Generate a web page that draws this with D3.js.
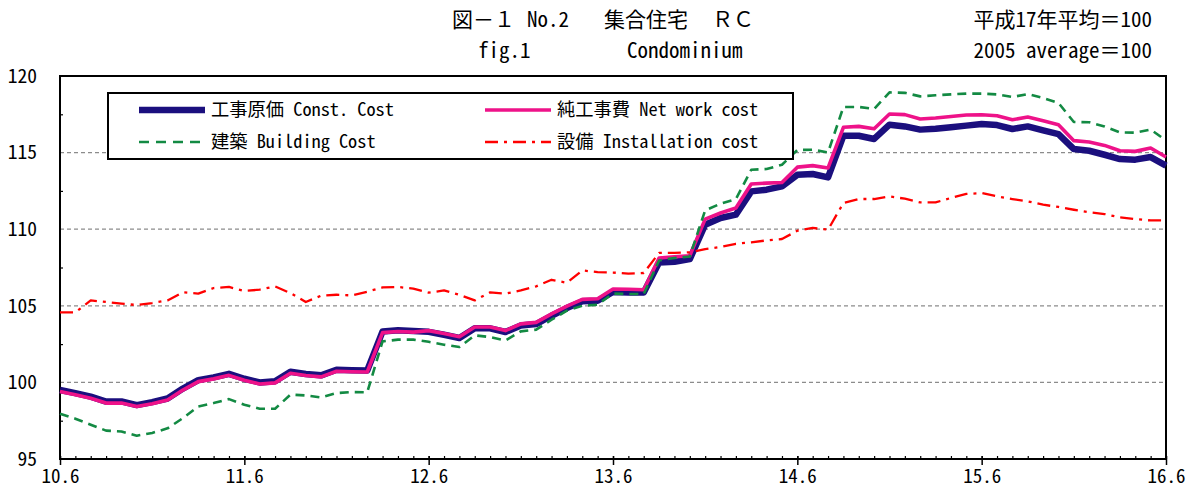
<!DOCTYPE html>
<html><head><meta charset="utf-8">
<script src="https://cdn.jsdelivr.net/npm/d3@7/dist/d3.min.js"></script>
<style>
body{margin:0;background:#fff;}
svg{display:block;}
text{font-family:"Noto Sans Mono CJK JP","DejaVu Sans Mono","Noto Sans CJK JP",monospace;fill:#000;}
</style>
</head><body>
<svg id="c" width="1192" height="491"></svg>
<script>
const months = [
"10.6","10.7","10.8","10.9","10.10","10.11","10.12","11.1","11.2","11.3","11.4","11.5",
"11.6","11.7","11.8","11.9","11.10","11.11","11.12","12.1","12.2","12.3","12.4","12.5",
"12.6","12.7","12.8","12.9","12.10","12.11","12.12","13.1","13.2","13.3","13.4","13.5",
"13.6","13.7","13.8","13.9","13.10","13.11","13.12","14.1","14.2","14.3","14.4","14.5",
"14.6","14.7","14.8","14.9","14.10","14.11","14.12","15.1","15.2","15.3","15.4","15.5",
"15.6","15.7","15.8","15.9","15.10","15.11","15.12","16.1","16.2","16.3","16.4","16.5","16.6"];
const xTickLabels = ["10.6","11.6","12.6","13.6","14.6","15.6","16.6"];
const yTicks = [95,100,105,110,115,120];
const yMinorTicks = [97.5,102.5,107.5,112.5,117.5];
const gridValues = [100,105,110,115];

const constCost = [99.5,99.3,99.07,98.75,98.76,98.52,98.71,98.95,99.6,100.15,100.33,100.56,
100.24,100.0,100.07,100.7,100.55,100.46,100.83,100.8,100.78,103.33,103.4,103.35,
103.3,103.11,102.9,103.53,103.53,103.29,103.72,103.81,104.35,104.85,105.29,105.33,
105.9,105.87,105.87,107.83,107.87,108.05,110.29,110.73,110.95,112.47,112.58,112.8,
113.55,113.6,113.38,116.1,116.1,115.89,116.82,116.71,116.5,116.56,116.65,116.76,
116.87,116.8,116.54,116.71,116.45,116.21,115.23,115.12,114.86,114.58,114.54,114.71,114.15];

const netWorkCost = [99.4,99.2,98.97,98.65,98.66,98.42,98.61,98.85,99.5,100.05,100.23,100.46,
100.14,99.9,99.97,100.6,100.45,100.36,100.73,100.7,100.68,103.25,103.32,103.28,
103.38,103.19,102.98,103.62,103.62,103.38,103.82,103.92,104.47,104.98,105.42,105.46,
106.1,106.08,106.05,108.12,108.2,108.27,110.66,111.06,111.38,112.95,113.01,113.05,
114.05,114.15,114.0,116.65,116.71,116.56,117.52,117.48,117.19,117.26,117.36,117.45,
117.47,117.41,117.15,117.32,117.08,116.82,115.78,115.69,115.47,115.12,115.08,115.3,114.71];

const buildingCost = [97.96,97.63,97.24,96.85,96.8,96.52,96.7,97.0,97.67,98.43,98.65,98.91,
98.54,98.28,98.28,99.2,99.15,99.02,99.3,99.37,99.35,102.68,102.79,102.79,
102.65,102.46,102.31,103.07,102.96,102.74,103.33,103.44,104.09,104.68,105.0,105.07,
105.8,105.77,105.77,107.96,108.12,108.22,111.23,111.66,111.97,113.88,113.93,114.21,
115.17,115.19,115.01,117.98,117.98,117.85,118.93,118.9,118.67,118.74,118.8,118.85,
118.85,118.8,118.63,118.82,118.56,118.24,117.0,116.98,116.71,116.32,116.3,116.5,115.8];

const installationCost = [104.57,104.57,105.35,105.25,105.14,105.05,105.18,105.35,105.88,105.8,106.16,106.23,
105.97,106.05,106.27,105.83,105.25,105.66,105.72,105.68,105.92,106.2,106.23,106.12,
105.86,106.0,105.72,105.35,105.88,105.79,106.0,106.27,106.7,106.5,107.31,107.2,
107.17,107.1,107.14,108.45,108.45,108.49,108.7,108.84,109.05,109.14,109.27,109.36,
109.9,110.08,109.97,111.71,111.97,111.97,112.14,111.99,111.75,111.75,112.04,112.3,
112.36,112.14,111.97,111.82,111.6,111.45,111.27,111.1,110.99,110.77,110.66,110.57,110.57];

const seriesNames = ["工事原価 Const. Cost","純工事費 Net work cost","建築 Building Cost","設備 Installation cost"];

const svg = d3.select("#c");
const L=60, R=1166, T=76, B=459;
const x = d3.scalePoint().domain(months).range([L,R]);
const y = d3.scaleLinear().domain([95,120]).range([B,T]);

// titles
const tf = 21;
[["図－１",452,27],["No.2",527,27],["集合住宅",604,27],["ＲＣ",712,27],
 ["fig.1",478,58],["Condominium",627,58]].forEach(([t,tx,ty])=>{
  svg.append("text").attr("x",tx).attr("y",ty).attr("font-size",tf).text(t);
});
svg.append("text").attr("x",1152).attr("y",27).attr("font-size",tf).attr("text-anchor","end").text("平成17年平均＝100");
svg.append("text").attr("x",1152).attr("y",58).attr("font-size",tf).attr("text-anchor","end").text("2005 average＝100");

// grid
svg.append("g").selectAll("line").data(gridValues).join("line")
  .attr("x1",L).attr("x2",R).attr("y1",d=>y(d)).attr("y2",d=>y(d))
  .attr("stroke","#8c8c8c").attr("stroke-width",1.2).attr("stroke-dasharray","4,3");

// axes
const gx = svg.append("g").attr("transform",`translate(0,${B})`)
  .call(d3.axisBottom(x).tickValues(xTickLabels).tickSize(6).tickPadding(4));
gx.select(".domain").remove();
gx.selectAll(".tick line").attr("y1",-3).attr("stroke","#000").attr("stroke-width",1.5);
gx.selectAll(".tick text").attr("font-size",19).attr("font-family",null).attr("dy","0.74em");
const gxm = svg.append("g").attr("transform",`translate(0,${B})`)
  .call(d3.axisBottom(x).tickValues(months).tickSize(-3).tickFormat(""));
gxm.select(".domain").remove();
gxm.selectAll(".tick line").attr("stroke","#000").attr("stroke-width",1.2);

const gy = svg.append("g").attr("transform",`translate(${L},0)`)
  .call(d3.axisLeft(y).tickValues(yTicks).tickSize(0).tickPadding(23));
gy.select(".domain").remove();
gy.selectAll(".tick text").attr("font-size",19.5).attr("font-family",null);
const gym = svg.append("g").attr("transform",`translate(${L},0)`)
  .call(d3.axisLeft(y).tickValues(yMinorTicks).tickSize(-3).tickFormat(""));
gym.select(".domain").remove();
gym.selectAll(".tick line").attr("stroke","#000").attr("stroke-width",1.2);

// frame
svg.append("rect").attr("x",L).attr("y",T).attr("width",R-L).attr("height",B-T)
  .attr("fill","none").attr("stroke","#000").attr("stroke-width",2);

// lines
const line = d3.line().x((d,i)=>x(months[i])).y(d=>y(d));
const styles = [
  {data:constCost,color:"#1b0f7e",w:6.5,dash:null},
  {data:netWorkCost,color:"#ee1289",w:3.6,dash:null},
  {data:buildingCost,color:"#138a43",w:2.6,dash:"9,6"},
  {data:installationCost,color:"#ff0000",w:2.3,dash:"13,6,3,6"}
];
styles.forEach(s=>{
  svg.append("path").datum(s.data).attr("d",line).attr("fill","none")
    .attr("stroke",s.color).attr("stroke-width",s.w).attr("stroke-linejoin","round")
    .attr("stroke-dasharray",s.dash);
});

// legend
const lg = svg.append("g");
lg.append("rect").attr("x",108).attr("y",93).attr("width",685).attr("height",66)
  .attr("fill","#fff").attr("stroke","#000").attr("stroke-width",2);
const legPos = [[139,110],[485,110],[139,142],[485,142]];
legPos.forEach(([lx,ly],k)=>{
  const s = styles[k];
  lg.append("line").attr("x1",lx).attr("x2",lx+66).attr("y1",ly).attr("y2",ly)
    .attr("stroke",s.color).attr("stroke-width",s.w).attr("stroke-dasharray",k===2?"10,7":s.dash);
  lg.append("text").attr("x",lx+72).attr("y",ly).attr("dy","0.35em").attr("font-size",18.3).text(seriesNames[k]);
});
</script>
</body></html>
